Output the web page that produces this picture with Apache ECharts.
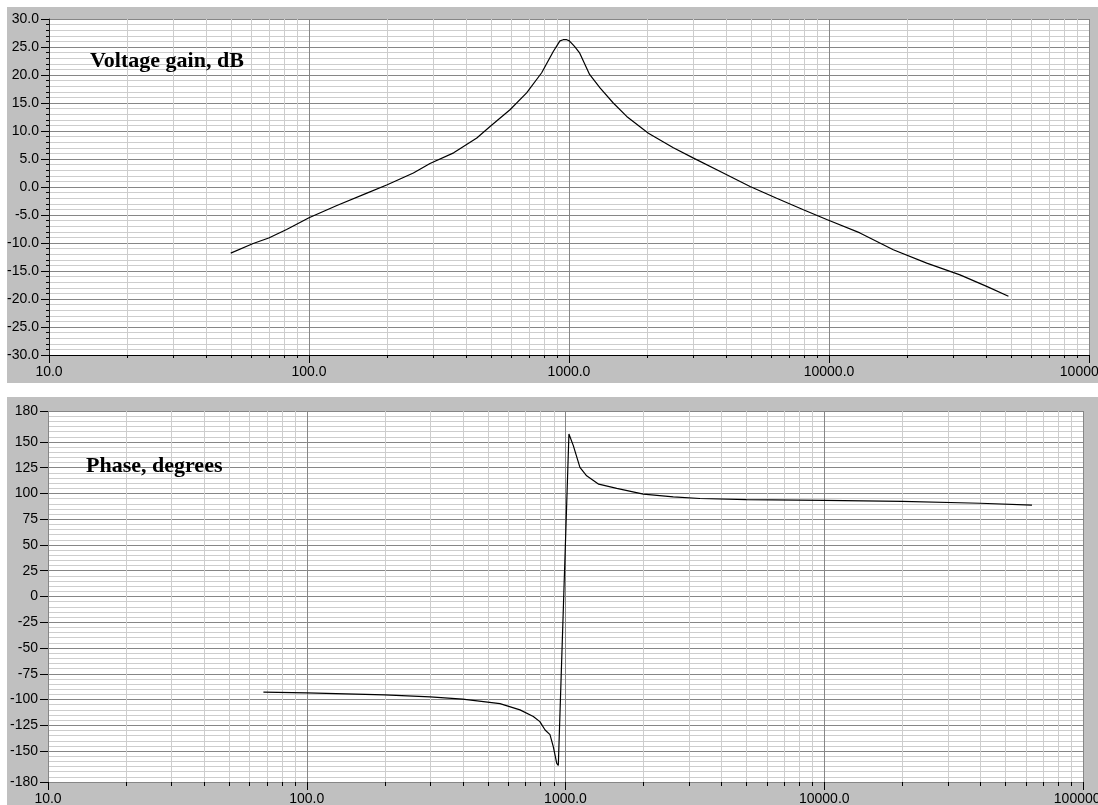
<!DOCTYPE html>
<html><head><meta charset="utf-8">
<script src="https://cdn.jsdelivr.net/npm/echarts@6/dist/echarts.min.js"></script>
<style>html,body{margin:0;padding:0;background:#fff}#c{width:1098px;height:805px}</style>
</head><body><div id="c"></div>
<script>
// ---- data ----
const gainFreq = [50, 61, 70, 82, 100, 128, 167, 200, 252, 292, 360, 442, 497, 593, 687, 785, 870, 923, 950, 980, 1003, 1050, 1100, 1200, 1316, 1480, 1667, 2020, 2520, 3000, 3920, 4970, 6290, 7970, 9800, 13150, 17670, 23760, 31900, 40400, 49000];
const gainDb   = [-11.8, -10.1, -9.1, -7.6, -5.5, -3.3, -1.1, 0.4, 2.5, 4.2, 6.1, 8.75, 10.8, 13.8, 16.8, 20.4, 24.2, 26.1, 26.3, 26.3, 26.1, 25.1, 23.9, 20.1, 17.7, 15.0, 12.6, 9.6, 7.0, 5.2, 2.5, 0.1, -2.0, -4.05, -5.8, -8.2, -11.2, -13.6, -15.7, -17.75, -19.5];
const phaseFreq = [68, 100, 200, 300, 400, 500, 558, 667, 751, 796, 834, 871, 897, 925, 938, 1031, 1072, 1137, 1207, 1344, 1578, 2000, 2610, 3310, 5000, 10000, 20000, 40000, 63500];
const phaseDeg  = [-92.7, -93.5, -95.4, -97.4, -99.5, -102.5, -104, -110, -116.5, -121.4, -129.5, -134, -145.7, -162, -164, 157.7, 146.4, 125.3, 117.1, 109, 104.9, 99.3, 96.7, 95.1, 94, 93.2, 92.3, 90.5, 88.6];
const xTickLabels = ['10.0', '100.0', '1000.0', '10000.0', '100000.0'];
const minorFreqs = [20,30,40,50,60,70,80,90,200,300,400,500,600,700,800,900,2000,3000,4000,5000,6000,7000,8000,9000,20000,30000,40000,50000,60000,70000,80000,90000];
const phaseTicks = [-180,-150,-125,-100,-75,-50,-25,0,25,50,75,100,125,150,180];
const gainTitle = 'Voltage gain, dB';
const phaseTitle = 'Phase, degrees';

const LIGHT = '#cdcdcd', DARK = '#868686', PANEL = '#c0c0c0';
const labelFont = { color: '#000', fontFamily: 'Liberation Sans, Arial, sans-serif', fontSize: 14 };

function minorRender(tickLen) {
  return function (params, api) {
    const pt = api.coord([api.value(0), api.value(1)]);
    const cs = params.coordSys;
    const x = Math.round(pt[0]) + 0.5;
    return { type: 'group', children: [
      { type: 'line', shape: { x1: x, y1: cs.y, x2: x, y2: cs.y + cs.height }, style: { stroke: LIGHT, lineWidth: 1 } },
      { type: 'line', shape: { x1: x, y1: cs.y + cs.height, x2: x, y2: cs.y + cs.height + tickLen }, style: { stroke: '#000', lineWidth: 1 } }
    ]};
  };
}

function xAxisCfg(gridIndex, showLine) {
  return {
    type: 'log', logBase: 10, min: 10, max: 100000, gridIndex: gridIndex, position: 'bottom',
    axisLine: { show: showLine, onZero: false, lineStyle: { color: '#000', width: 1 } },
    axisTick: { show: true, length: 8, lineStyle: { color: '#000' } },
    axisLabel: Object.assign({ margin: 10, hideOverlap: false, formatter: v => xTickLabels[Math.round(Math.log10(v)) - 1] }, labelFont),
    splitLine: { show: true, lineStyle: { color: DARK, width: 1 } },
    minorTick: { show: false }, minorSplitLine: { show: false }
  };
}

const chart = echarts.init(document.getElementById('c'), null, { renderer: 'canvas' });
chart.setOption({
  animation: false,
  backgroundColor: '#fff',
  graphic: [
    { type: 'rect', z: -10, shape: { x: 7, y: 7, width: 1091, height: 376 }, style: { fill: PANEL } },
    { type: 'rect', z: -10, shape: { x: 7, y: 397, width: 1091, height: 408 }, style: { fill: PANEL } },
    { type: 'text', z: 50, style: { x: 90, y: 61, text: gainTitle, verticalAlign: 'middle', fill: '#000', font: 'bold 22px "Liberation Serif", "Times New Roman", serif' } },
    { type: 'text', z: 50, style: { x: 86, y: 466, text: phaseTitle, verticalAlign: 'middle', fill: '#000', font: 'bold 22px "Liberation Serif", "Times New Roman", serif' } }
  ],
  grid: [
    { left: 49, top: 19, right: 9, height: 336, show: true, backgroundColor: '#fff', borderWidth: 0, containLabel: false, outerBoundsMode: 'none' },
    { left: 48, top: 411, right: 15, height: 371, show: true, backgroundColor: '#fff', borderWidth: 0, containLabel: false, outerBoundsMode: 'none' }
  ],
  xAxis: [ xAxisCfg(0, true), xAxisCfg(1, false) ],
  yAxis: [
    {
      type: 'value', gridIndex: 0, min: -30, max: 30, interval: 5,
      axisLine: { show: true, onZero: false, lineStyle: { color: '#222' } },
      axisTick: { show: true, length: 8, lineStyle: { color: '#000' } },
      minorTick: { show: true, splitNumber: 5, length: 3, lineStyle: { color: '#000' } },
      axisLabel: Object.assign({ margin: 10, formatter: v => v.toFixed(1) }, labelFont),
      splitLine: { show: true, lineStyle: { color: DARK } },
      minorSplitLine: { show: true, lineStyle: { color: LIGHT } }
    },
    {
      type: 'value', gridIndex: 1, min: -180, max: 180, interval: 5,
      axisLine: { show: false, onZero: false }, axisTick: { show: false }, axisLabel: { show: false },
      splitLine: { show: true, lineStyle: { color: LIGHT } }
    },
    {
      type: 'value', gridIndex: 1, min: -180, max: 180, position: 'left',
      axisLine: { show: false, onZero: false },
      axisTick: { show: true, length: 8, customValues: phaseTicks, lineStyle: { color: '#000' } },
      axisLabel: Object.assign({ margin: 10, customValues: phaseTicks, formatter: v => String(v) }, labelFont),
      splitLine: { show: true, lineStyle: { color: DARK } }
    }
  ],
  series: [
    { type: 'custom', xAxisIndex: 0, yAxisIndex: 0, z: 1, silent: true, renderItem: minorRender(3),
      data: minorFreqs.map(f => [f, -30]) },
    { type: 'custom', xAxisIndex: 1, yAxisIndex: 1, z: 1, silent: true, renderItem: minorRender(4),
      data: minorFreqs.map(f => [f, -180]) },
    { type: 'line', xAxisIndex: 0, yAxisIndex: 0, z: 5, showSymbol: false, symbol: 'none',
      lineStyle: { color: '#000', width: 1.2 }, data: gainFreq.map((f, i) => [f, gainDb[i]]) },
    { type: 'line', xAxisIndex: 1, yAxisIndex: 1, z: 5, showSymbol: false, symbol: 'none',
      lineStyle: { color: '#000', width: 1.2 }, data: phaseFreq.map((f, i) => [f, phaseDeg[i]]) }
  ]
});
</script></body></html>
